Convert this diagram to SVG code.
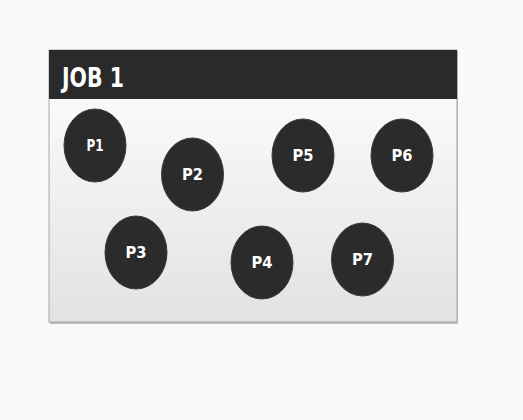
<svg xmlns="http://www.w3.org/2000/svg" width="523" height="420" viewBox="0 0 523 420">
<defs>
<linearGradient id="bodyGrad" x1="0" y1="0" x2="0" y2="1">
<stop offset="0" stop-color="#ffffff"/>
<stop offset="1" stop-color="#e2e2e2"/>
</linearGradient>
</defs>
<style>
.node ellipse{fill:#2b2b2b;stroke:#3a3a3a;stroke-width:1}
.node text{fill:#ffffff;font-family:"DejaVu Sans","Liberation Sans",sans-serif;font-weight:bold;font-size:15px;text-anchor:middle}
.title{fill:#ffffff;font-family:"DejaVu Sans","Liberation Sans",sans-serif;font-weight:bold;font-size:27px}
</style>
<rect x="0" y="0" width="523" height="420" fill="#fafafa"/>
<g id="frame">
<rect x="50" y="52" width="408" height="272" fill="#bdbdbd"/>
<rect x="49" y="50" width="408" height="272" fill="url(#bodyGrad)" stroke="#a8a8a8" stroke-width="1"/>
<rect x="49" y="50" width="408" height="49" fill="#2a2a2a"/>
<text class="title" x="62" y="87" textLength="62" lengthAdjust="spacingAndGlyphs">JOB 1</text>
</g>
<g id="connectors"></g>
<g id="P1" class="node"><ellipse cx="95" cy="145.5" rx="31" ry="36.5"/><text x="95" y="151" textLength="17" lengthAdjust="spacingAndGlyphs">P1</text></g>
<g id="P2" class="node"><ellipse cx="192.5" cy="174.5" rx="31" ry="36.5"/><text x="192.5" y="180" textLength="21" lengthAdjust="spacingAndGlyphs">P2</text></g>
<g id="P5" class="node"><ellipse cx="303" cy="155.5" rx="31" ry="36.5"/><text x="303" y="161" textLength="21" lengthAdjust="spacingAndGlyphs">P5</text></g>
<g id="P6" class="node"><ellipse cx="402" cy="155.5" rx="31" ry="36.5"/><text x="402" y="161" textLength="21" lengthAdjust="spacingAndGlyphs">P6</text></g>
<g id="P3" class="node"><ellipse cx="136" cy="252.5" rx="31" ry="36.5"/><text x="136" y="258" textLength="21" lengthAdjust="spacingAndGlyphs">P3</text></g>
<g id="P4" class="node"><ellipse cx="262" cy="262.5" rx="31" ry="36.5"/><text x="262" y="268" textLength="21" lengthAdjust="spacingAndGlyphs">P4</text></g>
<g id="P7" class="node"><ellipse cx="362.5" cy="259.5" rx="31" ry="36.5"/><text x="362.5" y="265" textLength="21" lengthAdjust="spacingAndGlyphs">P7</text></g>
</svg>
